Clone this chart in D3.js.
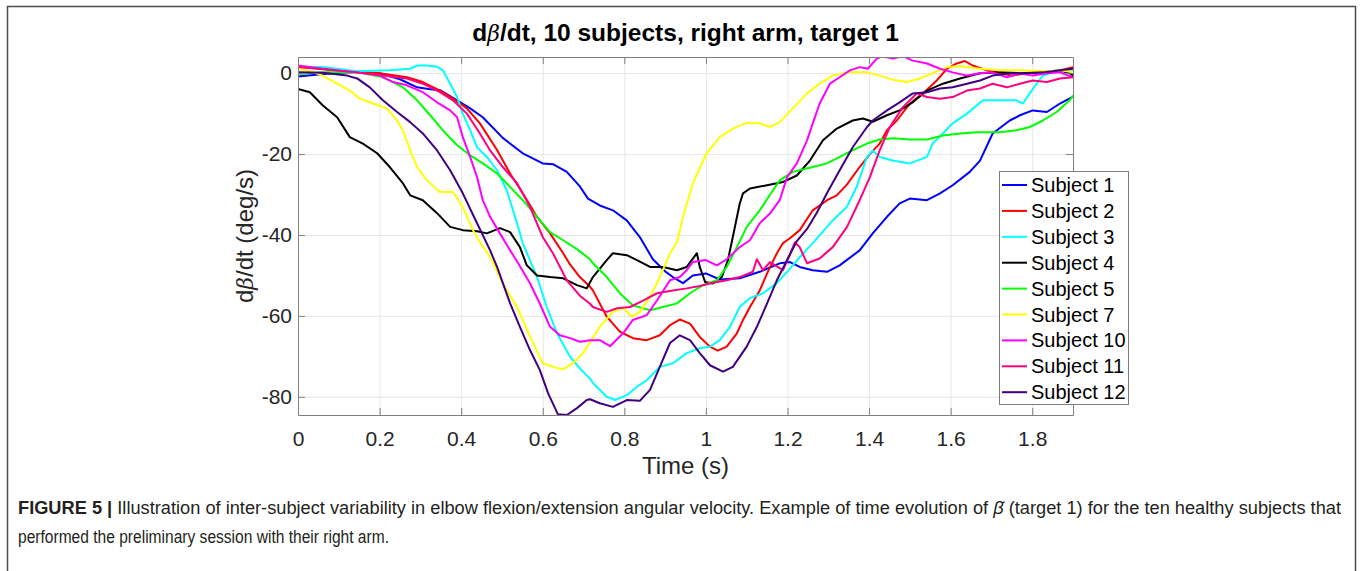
<!DOCTYPE html>
<html><head><meta charset="utf-8">
<script src="https://cdn.jsdelivr.net/npm/d3@7"></script>
<style>
body{margin:0;background:#fff;}
svg{display:block;font-family:"Liberation Sans",Arial,sans-serif;}
</style>
</head><body>
<svg id="chart" width="1362" height="571"></svg>
<script>
// ---- data: [time (s), dβ/dt (deg/s)] ----
const subject1 = [[0,-0.8],[0.05,-0.3],[0.1,0.1],[0.15,0.3],[0.2,0],[0.25,-1.5],[0.292,-3.5],[0.324,-4],[0.348,-4.2],[0.39,-6.7],[0.422,-8.7],[0.453,-10.9],[0.502,-16],[0.551,-19.8],[0.6,-22.3],[0.625,-22.5],[0.659,-24.4],[0.691,-28],[0.711,-31],[0.74,-32.7],[0.772,-33.9],[0.806,-36.4],[0.838,-40.5],[0.87,-46],[0.9,-49],[0.919,-50.4],[0.944,-51.9],[0.968,-50],[1.0,-49.5],[1.034,-51],[1.083,-50.7],[1.132,-49.1],[1.181,-47],[1.206,-46.7],[1.23,-47.9],[1.262,-48.7],[1.297,-49.1],[1.328,-47.5],[1.377,-43.8],[1.409,-39.6],[1.444,-35.5],[1.475,-32.2],[1.5,-31],[1.542,-31.4],[1.574,-29.7],[1.605,-27.7],[1.647,-24.4],[1.672,-21.6],[1.703,-14.9],[1.745,-11.7],[1.77,-10.4],[1.801,-9.2],[1.836,-9.6],[1.868,-7.5],[1.9,-5.8]];
const subject2 = [[0,1.6],[0.145,0.2],[0.201,0],[0.267,-1],[0.306,-2.2],[0.348,-4.3],[0.38,-6.3],[0.414,-8.7],[0.446,-12.4],[0.488,-19],[0.52,-24.8],[0.551,-29.7],[0.586,-35.5],[0.618,-39.6],[0.65,-44.5],[0.665,-47],[0.691,-50.4],[0.716,-52.8],[0.723,-53.7],[0.757,-60.2],[0.789,-63.9],[0.821,-65.5],[0.855,-66],[0.887,-64.8],[0.912,-62.3],[0.936,-60.9],[0.961,-61.9],[0.985,-65.2],[1.01,-67.6],[1.029,-68.6],[1.051,-67.6],[1.076,-64.3],[1.091,-61],[1.108,-57.8],[1.132,-53.7],[1.15,-49.5],[1.174,-44.5],[1.189,-42],[1.206,-40.8],[1.23,-38.8],[1.262,-33.9],[1.297,-31.4],[1.321,-30.2],[1.346,-27.5],[1.377,-23.2],[1.402,-20],[1.426,-17.4],[1.444,-14.1],[1.468,-11.7],[1.5,-7.5],[1.532,-5],[1.566,-1.8],[1.591,1.1],[1.615,2.4],[1.635,3],[1.654,1.9],[1.689,0.7],[1.721,0],[1.752,-0.6],[1.801,0.2],[1.85,0.2],[1.885,1.1],[1.9,1.5]];
const subject3 = [[0,1.6],[0.061,1.5],[0.145,0.5],[0.225,0.7],[0.275,1.1],[0.292,1.9],[0.316,1.9],[0.341,1.6],[0.355,0.7],[0.373,-2.6],[0.39,-5.9],[0.404,-10],[0.422,-14.1],[0.439,-18.3],[0.463,-20.7],[0.488,-24],[0.512,-29],[0.537,-37.1],[0.551,-42],[0.586,-50.4],[0.61,-57.8],[0.635,-64.3],[0.667,-70.1],[0.691,-73],[0.716,-75.5],[0.723,-76.6],[0.757,-80],[0.777,-80.8],[0.806,-79.6],[0.831,-77.5],[0.855,-75.9],[0.887,-72.6],[0.919,-71.7],[0.953,-69.2],[0.985,-68],[1.01,-67.6],[1.034,-66],[1.059,-62.7],[1.083,-57.8],[1.108,-55.6],[1.14,-54.4],[1.174,-51.9],[1.199,-49.1],[1.23,-45.5],[1.262,-42],[1.311,-36.4],[1.346,-33],[1.37,-28],[1.395,-20.7],[1.409,-19.1],[1.426,-20.7],[1.458,-21.6],[1.5,-22.3],[1.542,-20.7],[1.556,-17.4],[1.581,-14.9],[1.605,-12.4],[1.64,-10],[1.679,-6.7],[1.721,-6.7],[1.762,-6.7],[1.777,-7.5],[1.794,-5],[1.811,-2.6],[1.826,-0.6],[1.85,0.2],[1.9,0.5]];
const subject4 = [[0,-3.9],[0.029,-4.7],[0.061,-8],[0.096,-10.9],[0.127,-15.8],[0.159,-17.4],[0.194,-19.8],[0.225,-23.2],[0.257,-27.2],[0.275,-30.2],[0.306,-31.4],[0.341,-34.6],[0.373,-38],[0.404,-38.8],[0.439,-39.1],[0.463,-39.6],[0.495,-38.3],[0.52,-39.3],[0.544,-43],[0.561,-47.5],[0.586,-50],[0.618,-50.4],[0.65,-50.7],[0.684,-52.4],[0.708,-53.2],[0.723,-50.4],[0.757,-46.2],[0.772,-44.5],[0.806,-45],[0.831,-46.2],[0.863,-47.9],[0.895,-47.9],[0.929,-48.7],[0.953,-47.9],[0.978,-44.5],[0.985,-47.9],[0.998,-51.6],[1.017,-52],[1.039,-50.4],[1.054,-46.2],[1.066,-40.5],[1.083,-32.2],[1.091,-29.7],[1.108,-28.5],[1.15,-27.7],[1.189,-26.9],[1.223,-25.3],[1.255,-21.6],[1.287,-16.6],[1.321,-13.7],[1.36,-11.7],[1.385,-11.2],[1.409,-12],[1.444,-10.4],[1.475,-9.2],[1.507,-7.2],[1.542,-4.3],[1.581,-2.6],[1.623,-1.3],[1.672,0],[1.721,0.2],[1.77,0],[1.819,0.2],[1.868,0.7],[1.892,0],[1.9,-0.6]];
const subject5 = [[0,-0.2],[0.061,0.2],[0.145,0.2],[0.201,-0.8],[0.225,-1.8],[0.257,-3.5],[0.292,-6.7],[0.324,-10.4],[0.355,-14.1],[0.39,-17.8],[0.422,-20.3],[0.453,-22.3],[0.488,-24.8],[0.52,-28.1],[0.551,-31.4],[0.586,-35.5],[0.618,-39.3],[0.65,-41.3],[0.684,-43.5],[0.716,-46],[0.723,-47],[0.757,-50.4],[0.789,-54.4],[0.821,-57.4],[0.863,-58.6],[0.895,-57.8],[0.929,-56.9],[0.961,-54.4],[0.993,-52.4],[1.027,-51.2],[1.051,-47.9],[1.076,-43],[1.1,-38],[1.132,-33.9],[1.164,-29],[1.181,-26.5],[1.213,-24.4],[1.262,-23.2],[1.297,-22.3],[1.328,-20.7],[1.36,-19],[1.395,-17.4],[1.426,-16.4],[1.458,-16.1],[1.5,-16.4],[1.542,-16.4],[1.581,-15.4],[1.623,-14.9],[1.664,-14.6],[1.721,-14.6],[1.762,-14.1],[1.794,-13.3],[1.826,-11.7],[1.86,-9.6],[1.892,-6.7],[1.9,-5.5]];
const subject7 = [[0,1.1],[0.029,0.5],[0.061,-0.6],[0.096,-2.6],[0.127,-4.3],[0.152,-6.3],[0.184,-7.5],[0.218,-8.7],[0.243,-11.7],[0.257,-14.1],[0.275,-19.1],[0.292,-23.2],[0.316,-26.5],[0.348,-29.4],[0.38,-29.4],[0.404,-33.1],[0.429,-38.8],[0.446,-41.8],[0.471,-45.4],[0.502,-52],[0.537,-57.8],[0.569,-65.2],[0.6,-71.7],[0.635,-72.9],[0.65,-73.2],[0.674,-71.7],[0.699,-69.2],[0.716,-66.5],[0.74,-62.7],[0.772,-59],[0.797,-58.1],[0.819,-60.2],[0.838,-59],[0.863,-55.3],[0.887,-50.4],[0.912,-44.5],[0.929,-41.8],[0.944,-35.5],[0.968,-27.2],[1.002,-19.8],[1.034,-15.8],[1.066,-13.7],[1.1,-12.3],[1.132,-12.4],[1.157,-13.3],[1.181,-12.1],[1.213,-8.7],[1.248,-5],[1.279,-2.6],[1.311,-0.6],[1.346,0.2],[1.395,0.2],[1.426,-0.6],[1.458,-1.6],[1.493,-2.2],[1.525,-1.3],[1.556,0],[1.591,1.5],[1.623,1.7],[1.672,1.1],[1.721,0.7],[1.77,0.7],[1.836,0.5],[1.868,0.7],[1.9,0.2]];
const subject10 = [[0,1.9],[0.061,1.1],[0.145,0.2],[0.201,-0.6],[0.233,-2.2],[0.267,-3],[0.306,-4.7],[0.341,-7.2],[0.373,-9.2],[0.39,-10.9],[0.404,-15.8],[0.422,-20.7],[0.439,-25.7],[0.453,-31.4],[0.471,-35.5],[0.495,-39.6],[0.52,-43.8],[0.537,-46.5],[0.569,-52],[0.593,-57],[0.618,-62.7],[0.642,-64.8],[0.667,-65.5],[0.691,-66.4],[0.716,-66],[0.74,-66],[0.765,-67.5],[0.797,-64.3],[0.821,-61],[0.855,-59.8],[0.88,-56.2],[0.912,-51.2],[0.936,-50.4],[0.953,-48.7],[0.968,-46.7],[1.0,-46.2],[1.027,-47.5],[1.051,-46],[1.083,-43],[1.108,-41.3],[1.132,-37.1],[1.157,-34.7],[1.181,-31.4],[1.199,-25.7],[1.223,-22.3],[1.248,-16.6],[1.262,-12.4],[1.279,-7.5],[1.304,-2.6],[1.328,-1],[1.353,0.7],[1.377,1.5],[1.397,1.1],[1.419,3.6],[1.434,4.2],[1.458,3.6],[1.483,4.2],[1.507,3.1],[1.542,2.4],[1.574,1.1],[1.605,0.2],[1.64,-0.6],[1.672,0],[1.703,0.2],[1.738,-1],[1.77,0],[1.801,-0.6],[1.836,0],[1.868,0.2],[1.9,-1]];
const subject11 = [[0,1.5],[0.145,0.2],[0.267,-1.3],[0.306,-2.6],[0.348,-4.7],[0.38,-6.7],[0.414,-10],[0.446,-14.9],[0.471,-19.1],[0.502,-23.2],[0.537,-27.2],[0.569,-33.1],[0.6,-40.5],[0.625,-44.5],[0.659,-51.2],[0.691,-55],[0.716,-57],[0.723,-57.8],[0.757,-59],[0.782,-58.1],[0.814,-57.8],[0.846,-56.2],[0.88,-54.4],[0.919,-53.7],[0.953,-53.2],[0.985,-52.6],[1.017,-51.8],[1.051,-51.2],[1.083,-50.4],[1.115,-49.1],[1.125,-46],[1.14,-48.7],[1.157,-46.7],[1.189,-48.7],[1.206,-44.8],[1.218,-41.8],[1.23,-43],[1.248,-47],[1.279,-45.8],[1.311,-43],[1.346,-38],[1.377,-31.4],[1.402,-25.7],[1.426,-19.1],[1.451,-13.3],[1.483,-8.4],[1.517,-5],[1.542,-5.9],[1.574,-6.3],[1.605,-5.9],[1.64,-4.3],[1.672,-3.8],[1.703,-2.6],[1.738,-3.5],[1.77,-2.6],[1.801,-1.8],[1.836,-2.2],[1.868,-1.3],[1.9,-1]];
const subject12 = [[0,0.2],[0.061,0.1],[0.12,-0.6],[0.145,-1.3],[0.176,-3.5],[0.208,-6.7],[0.243,-9.6],[0.275,-12.1],[0.306,-14.9],[0.341,-19.1],[0.373,-24],[0.404,-29.7],[0.439,-37.1],[0.471,-43.8],[0.488,-47.9],[0.52,-56.9],[0.544,-62.7],[0.569,-68.5],[0.593,-73.4],[0.613,-79.1],[0.637,-84.3],[0.659,-84.5],[0.684,-82.8],[0.708,-80.8],[0.716,-80.6],[0.74,-81.6],[0.772,-82.5],[0.806,-80.8],[0.838,-81],[0.863,-78.3],[0.887,-72.6],[0.912,-66.7],[0.936,-64.8],[0.961,-66],[0.985,-69.2],[1.01,-72.2],[1.042,-73.8],[1.066,-72.6],[1.1,-67.6],[1.125,-62.7],[1.15,-56.9],[1.174,-51.2],[1.199,-46.2],[1.223,-41.5],[1.248,-38.5],[1.272,-34.5],[1.297,-29.6],[1.328,-24],[1.36,-18.3],[1.395,-13.3],[1.409,-11.7],[1.444,-9.2],[1.475,-7.2],[1.507,-5],[1.542,-4.7],[1.574,-3.8],[1.605,-3.5],[1.64,-2.6],[1.672,-1.8],[1.703,-0.6],[1.745,0],[1.787,0],[1.826,0.2],[1.868,0.7],[1.9,1.1]];

const subjectNames = ["Subject 1","Subject 2","Subject 3","Subject 4","Subject 5","Subject 7","Subject 10","Subject 11","Subject 12"];
const subjectData = [subject1,subject2,subject3,subject4,subject5,subject7,subject10,subject11,subject12];
const xTicks = [0,0.2,0.4,0.6,0.8,1,1.2,1.4,1.6,1.8];
const yTicks = [-80,-60,-40,-20,0];

// ---- styles ----
const lineColors = ["#0000ff","#ff0000","#00ffff","#000000","#00ff00","#ffff00","#ff00ff","#ff0080","#400080"];

const svg = d3.select("#chart");
const L = 298, R = 1073, T = 57, B = 415;
const x = d3.scaleLinear().domain([0,1.9]).range([L,R]);
const y = d3.scaleLinear().domain([-84.5,4]).range([B,T]);
const fmt = d => String(d);   // plain hyphen-minus like the original

// figure frame
svg.append("rect").attr("x",7.5).attr("y",6.5).attr("width",1348).attr("height",620)
  .attr("fill","none").attr("stroke","#4d4d4d").attr("stroke-width",1.5);

// plot background
svg.append("rect").attr("x",L).attr("y",T).attr("width",R-L).attr("height",B-T).attr("fill","#fff");

// grid
svg.append("g").attr("transform",`translate(0,${B})`)
  .call(d3.axisBottom(x).tickValues(xTicks).tickSize(-(B-T)).tickFormat(""))
  .call(g=>g.select(".domain").remove())
  .selectAll("line").attr("stroke","#e6e6e6").attr("stroke-width",1);
svg.append("g").attr("transform",`translate(${L},0)`)
  .call(d3.axisLeft(y).tickValues(yTicks).tickSize(-(R-L)).tickFormat(""))
  .call(g=>g.select(".domain").remove())
  .selectAll("line").attr("stroke","#e6e6e6").attr("stroke-width",1);

// clip
svg.append("clipPath").attr("id","plotclip").append("rect")
  .attr("x",L).attr("y",T).attr("width",R-L).attr("height",B-T);

const line = d3.line().x(d=>x(d[0])).y(d=>y(d[1]));
const lines = svg.append("g").attr("clip-path","url(#plotclip)");
subjectData.forEach((data,i)=>{
  lines.append("path").datum(data).attr("d",line)
    .attr("fill","none").attr("stroke",lineColors[i]).attr("stroke-width",2)
    .attr("stroke-linejoin","round");
});

// axes (ticks inward, box)
const axisColor = "#808080", textColor = "#262626";
const tk = 7;
function styleAxis(g){
  g.select(".domain").attr("stroke",axisColor).attr("stroke-width",1);
  g.selectAll(".tick line").attr("stroke",axisColor);
  g.selectAll(".tick text").attr("fill",textColor).attr("font-size",21)
    .attr("font-family","'Liberation Sans',Arial,sans-serif");
}
svg.append("g").attr("transform",`translate(0,${B})`)
  .call(d3.axisBottom(x).tickValues(xTicks).tickSizeInner(-tk).tickSizeOuter(0).tickPadding(16).tickFormat(fmt))
  .call(styleAxis);
svg.append("g").attr("transform",`translate(0,${T})`)
  .call(d3.axisTop(x).tickValues(xTicks).tickSizeInner(-tk).tickSizeOuter(0).tickFormat(""))
  .call(styleAxis);
svg.append("g").attr("transform",`translate(${L},0)`)
  .call(d3.axisLeft(y).tickValues(yTicks).tickSizeInner(-tk).tickSizeOuter(0).tickPadding(6).tickFormat(fmt))
  .call(styleAxis);
svg.append("g").attr("transform",`translate(${R},0)`)
  .call(d3.axisRight(y).tickValues(yTicks).tickSizeInner(-tk).tickSizeOuter(0).tickFormat(""))
  .call(styleAxis);

// title
const title = svg.append("text").attr("x",(L+R)/2).attr("y",41).attr("text-anchor","middle")
  .attr("font-size",24.5).attr("font-weight","bold").attr("fill","#000");
title.append("tspan").text("d");
title.append("tspan").attr("font-style","italic").attr("font-weight","normal").attr("font-family","'DejaVu Serif',serif").attr("font-size",22).text("β");
title.append("tspan").text("/dt, 10 subjects, right arm, target 1");

// axis labels
svg.append("text").attr("x",(L+R)/2).attr("y",474).attr("text-anchor","middle")
  .attr("font-size",24).attr("fill",textColor).text("Time (s)");
const yl = svg.append("text").attr("transform",`translate(253,${(T+B)/2}) rotate(-90)`)
  .attr("text-anchor","middle").attr("font-size",24).attr("fill",textColor);
yl.append("tspan").text("d");
yl.append("tspan").attr("font-style","italic").attr("font-family","'DejaVu Serif',serif").attr("font-size",22).text("β");
yl.append("tspan").text("/dt (deg/s)");

// legend
const lg = svg.append("g");
lg.append("rect").attr("x",999.5).attr("y",171.5).attr("width",129).attr("height",233)
  .attr("fill","#fff").attr("stroke","#7a7a7a").attr("stroke-width",1);
subjectNames.forEach((name,i)=>{
  const cy = 185 + i*25.9;
  lg.append("line").attr("x1",1002).attr("x2",1027).attr("y1",cy).attr("y2",cy)
    .attr("stroke",lineColors[i]).attr("stroke-width",2);
  lg.append("text").attr("x",1031).attr("y",cy).attr("dy","0.35em")
    .attr("font-size",20).attr("fill","#000").text(name);
});

// caption
const capFont = "'Liberation Sans Narrow','Liberation Sans',Arial,sans-serif";
const cap1 = svg.append("text").attr("x",18).attr("y",514).attr("font-size",17.5)
  .attr("font-family",capFont).attr("fill","#231f20")
  .attr("textLength",1323).attr("lengthAdjust","spacingAndGlyphs");
cap1.append("tspan").attr("font-weight","bold").text("FIGURE 5 | ");
cap1.append("tspan").text("Illustration of inter-subject variability in elbow flexion/extension angular velocity. Example of time evolution of ");
cap1.append("tspan").attr("font-style","italic").text("β\u0307");
cap1.append("tspan").text(" (target 1) for the ten healthy subjects that");
svg.append("text").attr("x",18).attr("y",543).attr("font-size",17.5)
  .attr("font-family",capFont).attr("fill","#231f20")
  .attr("textLength",371).attr("lengthAdjust","spacingAndGlyphs")
  .text("performed the preliminary session with their right arm.");
</script>
</body></html>
